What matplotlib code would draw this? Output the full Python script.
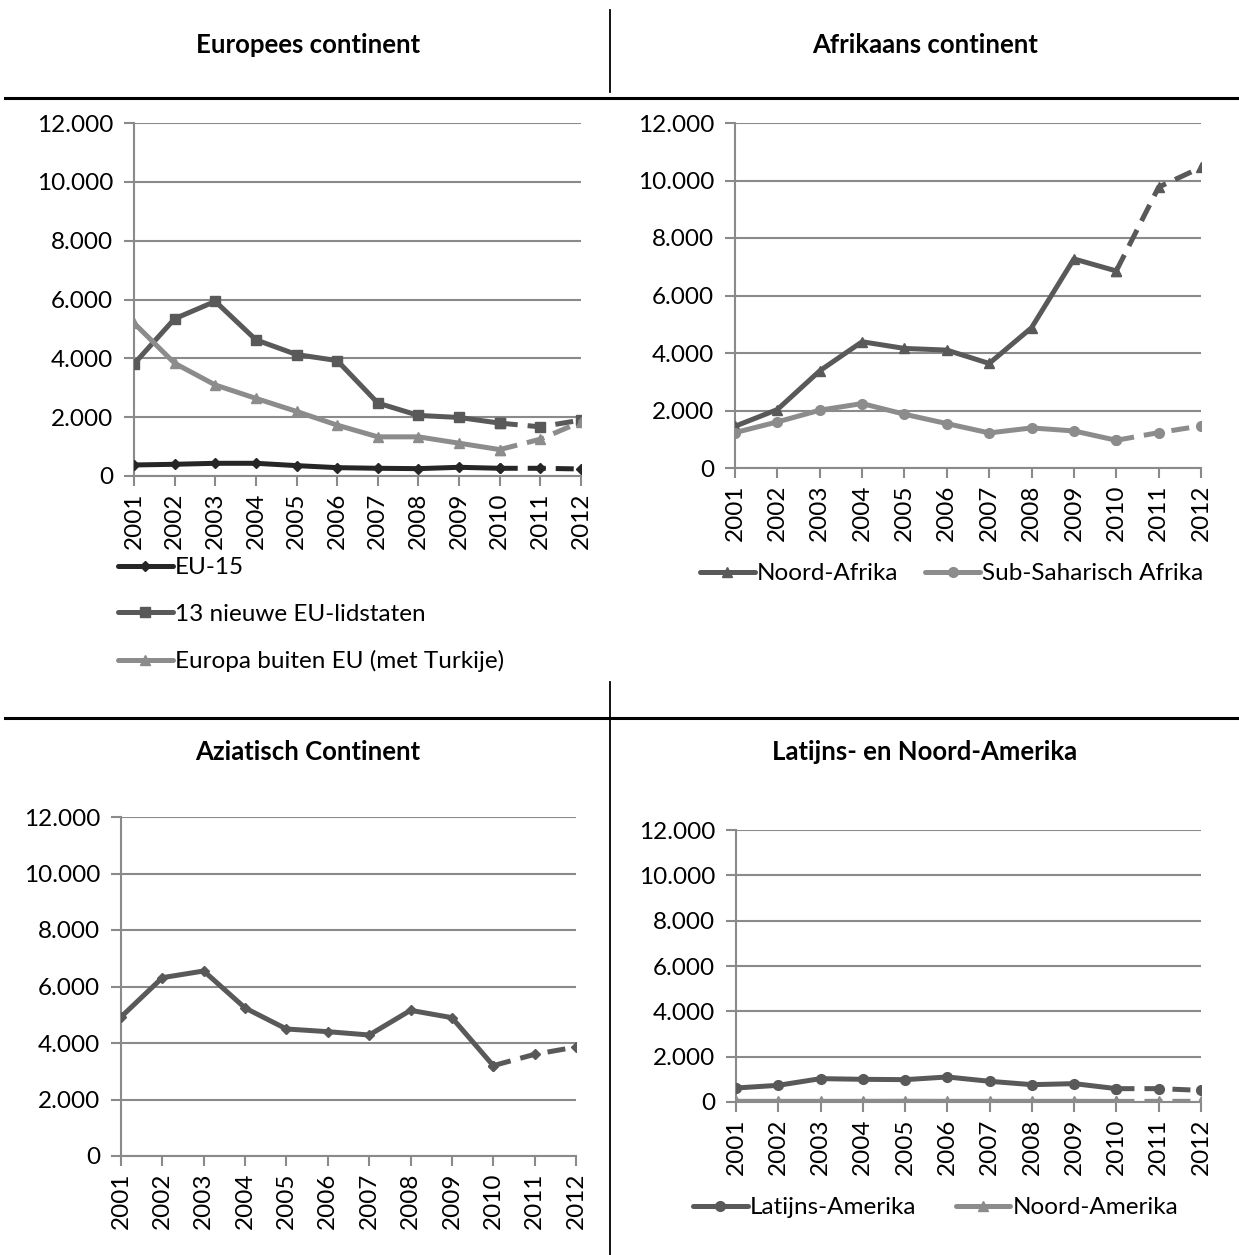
import numpy as np
import matplotlib
matplotlib.use("Agg")
from matplotlib import pyplot as plt
from matplotlib.lines import Line2D
from matplotlib.ticker import FuncFormatter

plt.rcParams['font.family'] = ['Lato', 'DejaVu Sans']

years = [2001, 2002, 2003, 2004, 2005, 2006, 2007, 2008, 2009, 2010, 2011, 2012]

# Europees continent
eu15 = [375, 398, 432, 432, 353, 284, 262, 250, 296, 262, 262, 239]
nieuwe13 = [3810, 5346, 5937, 4629, 4129, 3924, 2480, 2059, 1990, 1797, 1672, 1900]
europa_buiten = [5198, 3833, 3094, 2639, 2195, 1729, 1331, 1331, 1115, 898, 1251, 1843]

# Afrikaans continent
noord_afrika = [1452, 2033, 3380, 4391, 4159, 4101, 3636, 4879, 7272, 6854, 9770, 10455]
sub_sahara = [1231, 1603, 2010, 2242, 1870, 1545, 1220, 1394, 1289, 964, 1231, 1464]

# Aziatisch continent
azie = [4920, 6313, 6549, 5239, 4496, 4401, 4283, 5156, 4897, 3198, 3599, 3858]

# Latijns- en Noord-Amerika
latijns = [618, 736, 1031, 1001, 986, 1104, 913, 765, 810, 589, 589, 515]
noord_amerika = [30, 30, 30, 30, 35, 30, 30, 30, 30, 25, 30, 30]

DARK = '#262626'
MID = '#595959'
LIGHT = '#8c8c8c'
GRID = '#8a8a8a'
FS = 17.5     # tick labels
LFS = 17.5    # legend
TFS = 18.5    # titles

W, H = 1239, 1255
fig = plt.figure(figsize=(W / 100, H / 100), dpi=100)


def box(x0, y0, x1, y1):
    return [x0 / W, 1 - y1 / H, (x1 - x0) / W, (y1 - y0) / H]


def series(ax, y, color, marker, ms, label):
    # solid part up to 2010, dashed forecast 2010-2012
    ax.plot(years[:10], y[:10], color=color, lw=3.6, marker=marker, ms=ms,
            label=label, solid_capstyle='round', zorder=3)
    ax.plot(years[9:], y[9:], color=color, lw=3.6, marker=marker, ms=ms,
            ls=(0, (3.6, 2.0)), zorder=3)


def style(ax):
    ax.set_xlim(2001, 2012)
    ax.set_ylim(0, 12000)
    ax.set_yticks(range(0, 12001, 2000))
    ax.yaxis.set_major_formatter(FuncFormatter(lambda v, p: f"{int(v):,}".replace(',', '.')))
    ax.set_xticks(years)
    ax.set_xticklabels([str(y) for y in years], rotation=90)
    ax.grid(axis='y', color=GRID, lw=1.5)
    ax.set_axisbelow(True)
    for s in ['top', 'right']:
        ax.spines[s].set_visible(False)
    for s in ['left', 'bottom']:
        ax.spines[s].set_color(GRID)
        ax.spines[s].set_linewidth(1.5)
    ax.tick_params(axis='y', length=7, width=1.5, color=GRID, labelsize=FS, pad=8)
    ax.tick_params(axis='x', length=7, width=1.5, color=GRID, labelsize=FS, pad=5)


leg_kw = dict(loc='upper left', bbox_transform=fig.transFigure, frameon=False, fontsize=LFS,
              handlelength=2.25, handletextpad=0.1, borderaxespad=0, borderpad=0)

ax1 = fig.add_axes(box(134, 123, 581, 476))
series(ax1, eu15, DARK, 'D', 5, 'EU-15')
series(ax1, nieuwe13, MID, 's', 7, '13 nieuwe EU-lidstaten')
series(ax1, europa_buiten, LIGHT, '^', 7, 'Europa buiten EU (met Turkije)')
style(ax1)
ax1.legend(bbox_to_anchor=(118 / W, 1 - 557 / H), labelspacing=1.05, **leg_kw)

ax2 = fig.add_axes(box(735, 123, 1201, 468))
series(ax2, noord_afrika, MID, '^', 7, 'Noord-Afrika')
series(ax2, sub_sahara, LIGHT, 'o', 7, 'Sub-Saharisch Afrika')
style(ax2)
ax2.legend(bbox_to_anchor=(700 / W, 1 - 563 / H), ncol=2, columnspacing=1.1, **leg_kw)

ax3 = fig.add_axes(box(121, 817, 576, 1156))
series(ax3, azie, MID, 'D', 5, 'Azië')
style(ax3)

ax4 = fig.add_axes(box(736, 830, 1201, 1102))
series(ax4, latijns, MID, 'o', 7, 'Latijns-Amerika')
series(ax4, noord_amerika, LIGHT, '^', 7, 'Noord-Amerika')
style(ax4)
ax4.legend(bbox_to_anchor=(693 / W, 1 - 1197 / H), ncol=2, columnspacing=1.6, **leg_kw)

# table borders
fig.add_artist(Line2D([5 / W, 1], [1 - 98 / H] * 2, color='black', lw=2.2))
fig.add_artist(Line2D([610 / W] * 2, [1 - 10 / H, 1 - 92 / H], color='black', lw=1.3))
fig.add_artist(Line2D([5 / W, 1], [1 - 718 / H] * 2, color='black', lw=2.2))
fig.add_artist(Line2D([610 / W] * 2, [1 - 682 / H, 0], color='black', lw=1.3))

# titles
tkw = dict(ha='center', va='center', fontsize=TFS, fontweight='bold')
fig.text(308 / W, 1 - 45 / H, 'Europees continent', **tkw)
fig.text(925 / W, 1 - 45 / H, 'Afrikaans continent', **tkw)
fig.text(308 / W, 1 - 752 / H, 'Aziatisch Continent', **tkw)
fig.text(925 / W, 1 - 752 / H, 'Latijns- en Noord-Amerika', **tkw)

fig.savefig('out.png', dpi=100)
